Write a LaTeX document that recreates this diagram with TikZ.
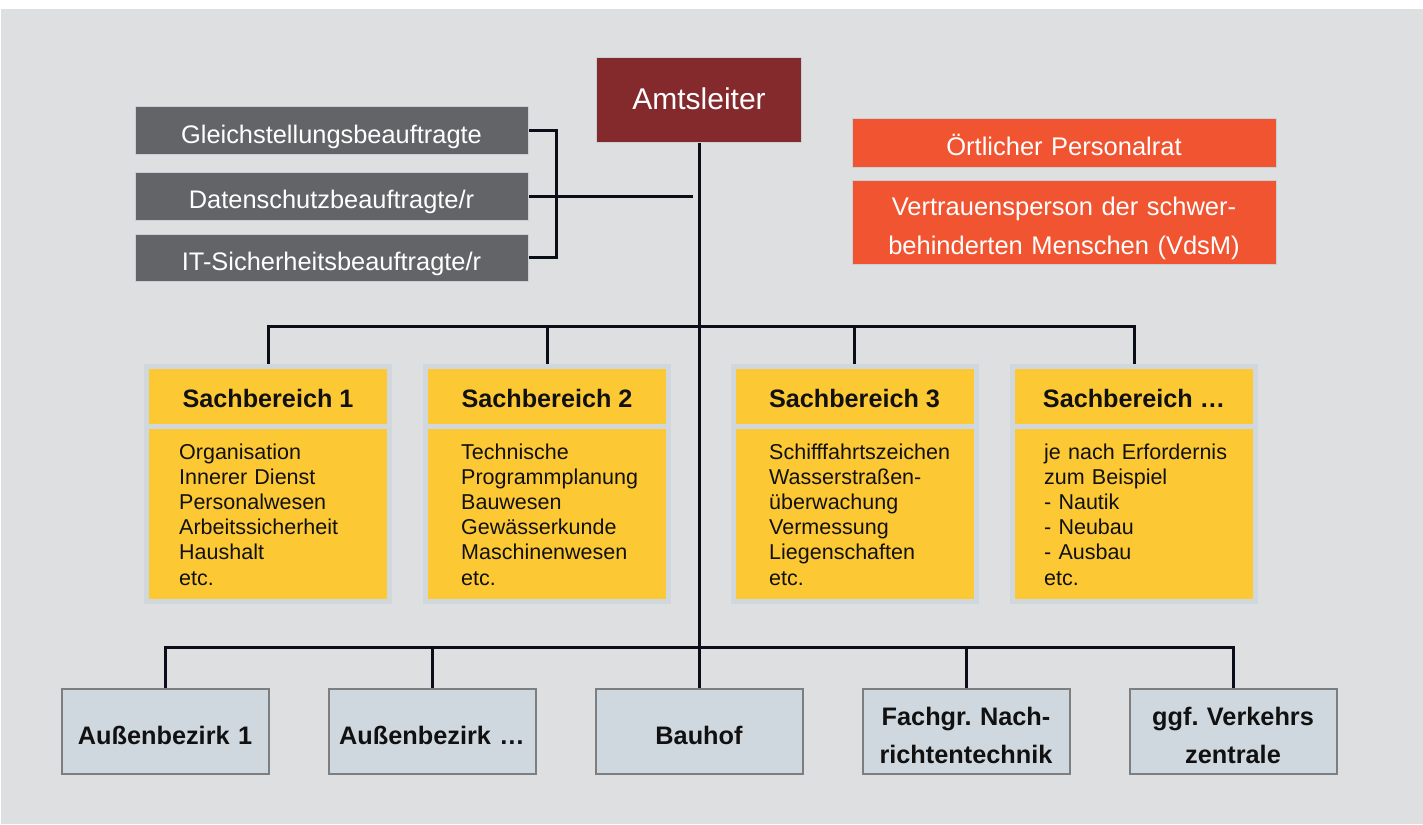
\documentclass[tikz,border=0pt]{standalone}
\usepackage{fontspec}
\setmainfont{Liberation Sans}[Ligatures=NoCommon]
\usetikzlibrary{backgrounds}
\definecolor{bgc}{HTML}{DEDFE1}
\definecolor{staffc}{HTML}{636467}
\definecolor{edgec}{HTML}{C8D0D6}
\definecolor{amtc}{HTML}{842A2D}
\definecolor{orc}{HTML}{F05431}
\definecolor{yelc}{HTML}{FCC834}
\definecolor{sbedge}{HTML}{D0D8DE}
\definecolor{bfill}{HTML}{D0D8DF}
\definecolor{bedge}{HTML}{7D7E80}
\definecolor{linec}{HTML}{0A0E18}
\definecolor{txtc}{HTML}{111111}
\frenchspacing
\begin{document}
\begin{tikzpicture}[x=1pt, y=-1pt,
  conn/.style={draw=linec, line width=3pt},
  staff/.style={fill=staffc, draw=edgec, line width=1pt, text=white, minimum width=393pt, inner sep=0pt, font=\fontsize{25.4}{30}\selectfont, text height=25pt, text depth=0pt},
  amtbox/.style={fill=amtc, draw=edgec, line width=1pt, text=white, minimum width=205pt, minimum height=84pt, inner sep=0pt, font=\fontsize{30}{36}\selectfont, text height=19.5pt, text depth=0pt},
  orbox/.style={fill=orc, draw=edgec, line width=1pt, text=white, minimum width=424pt, inner sep=0pt, font=\fontsize{25.5}{39}\selectfont, text width=424pt, align=center},
  sbhead/.style={fill=yelc, draw=sbedge, line width=5pt, minimum width=243pt, minimum height=60pt, inner sep=0pt, text=txtc, font=\bfseries\fontsize{25.2}{30}\selectfont, text height=22.9pt, text depth=0pt},
  sbbody/.style={fill=yelc, draw=sbedge, line width=5pt, minimum width=243pt, minimum height=175pt, inner sep=0pt},
  sbtext/.style={anchor=base west, inner sep=0pt, text width=200pt, align=left, text=txtc, font=\fontsize{21.5}{25.2}\selectfont},
  unit/.style={fill=bfill, draw=bedge, line width=2pt, minimum width=207pt, minimum height=85pt, inner sep=0pt, text=txtc, font=\frenchspacing\bfseries\fontsize{25.3}{38}\selectfont, text width=207pt, align=center},
  oneline/.style={text height=25pt, text depth=0pt},
  twoline/.style={text height=20pt, text depth=33pt}]
\useasboundingbox (0,0) rectangle (1423,824);

% Staff positions
\node[staff, minimum height=47pt] (gs) at (331.5,130.5) {Gleichstellungsbeauftragte};
\node[staff, minimum height=48pt] (ds) at (331.5,196) {Datenschutzbeauftragte/r};
\node[staff, minimum height=47pt] (it) at (331.5,257.5) {IT-Sicherheitsbeauftragte/r};

% Head
\node[amtbox] (amt) at (699,100) {Amtsleiter};

% Representations
\node[orbox, minimum height=48pt, text height=24.2pt, text depth=0pt] (pr) at (1064,143) {Örtlicher Personalrat};
\node[orbox, minimum height=84pt, text height=20pt, text depth=34pt] (vd) at (1064,222) {Vertrauensperson der schwer-\\behinderten Menschen (VdsM)};

% Sachbereiche
\node[sbhead] (h1) at (268,396.5) {Sachbereich 1};
\node[sbhead] (h2) at (547,396.5) {Sachbereich 2};
\node[sbhead] (h3) at (854.5,396.5) {Sachbereich 3};
\node[sbhead] (h4) at (1134,396.5) {Sachbereich …};
\node[sbbody] (b1) at (268,514) {};
\node[sbbody] (b2) at (547,514) {};
\node[sbbody] (b3) at (854.5,514) {};
\node[sbbody] (b4) at (1134,514) {};
\node[sbtext] (t1) at (179,459) {Organisation\\Innerer Dienst\\Personalwesen\\Arbeitssicherheit\\Haushalt\\etc.};
\node[sbtext] (t2) at (461,459) {Technische\\Programmplanung\\Bauwesen\\Gewässerkunde\\Maschinenwesen\\etc.};
\node[sbtext] (t3) at (769,459) {Schifffahrtszeichen\\Wasserstraßen-\\überwachung\\Vermessung\\Liegenschaften\\etc.};
\node[sbtext] (t4) at (1044,459) {je nach Erfordernis\\zum Beispiel\\- Nautik\\- Neubau\\- Ausbau\\etc.};

% Units
\node[unit, oneline] (u1) at (165,731.5) {Außenbezirk 1};
\node[unit, oneline] (u2) at (432,731.5) {Außenbezirk …};
\node[unit, oneline] (u3) at (699,731.5) {Bauhof};
\node[unit, twoline] (u4) at (966,731.5) {Fachgr.\ Nach-\\richtentechnik};
\node[unit, twoline] (u5) at (1233,731.5) {ggf.\ Verkehrs\\zentrale};

\coordinate (sj) at (693,196);
\coordinate (hb) at (699,326);
\coordinate (lb) at (699,647);

\begin{scope}[on background layer]
  \fill[white] (0,0) rectangle (1423,824);
  \fill[bgc] (1,9) rectangle (1423,824);
  % staff connector
  \draw[conn] (gs.east) -- ++(28,0) |- (it.east);
  \draw[conn] (ds.east) -- (sj);
  % main line
  \draw[conn] (amt.south) -- (u3.north);
  % Sachbereich bar
  \draw[conn] (h1.north) -- (h1.north |- hb) -- (h4.north |- hb) -- (h4.north);
  \draw[conn] (h2.north) -- (h2.north |- hb);
  \draw[conn] (h3.north) -- (h3.north |- hb);
  % unit bar
  \draw[conn] (u1.north) -- (u1.north |- lb) -- (u5.north |- lb) -- (u5.north);
  \draw[conn] (u2.north) -- (u2.north |- lb);
  \draw[conn] (u4.north) -- (u4.north |- lb);
\end{scope}
\end{tikzpicture}
\end{document}
